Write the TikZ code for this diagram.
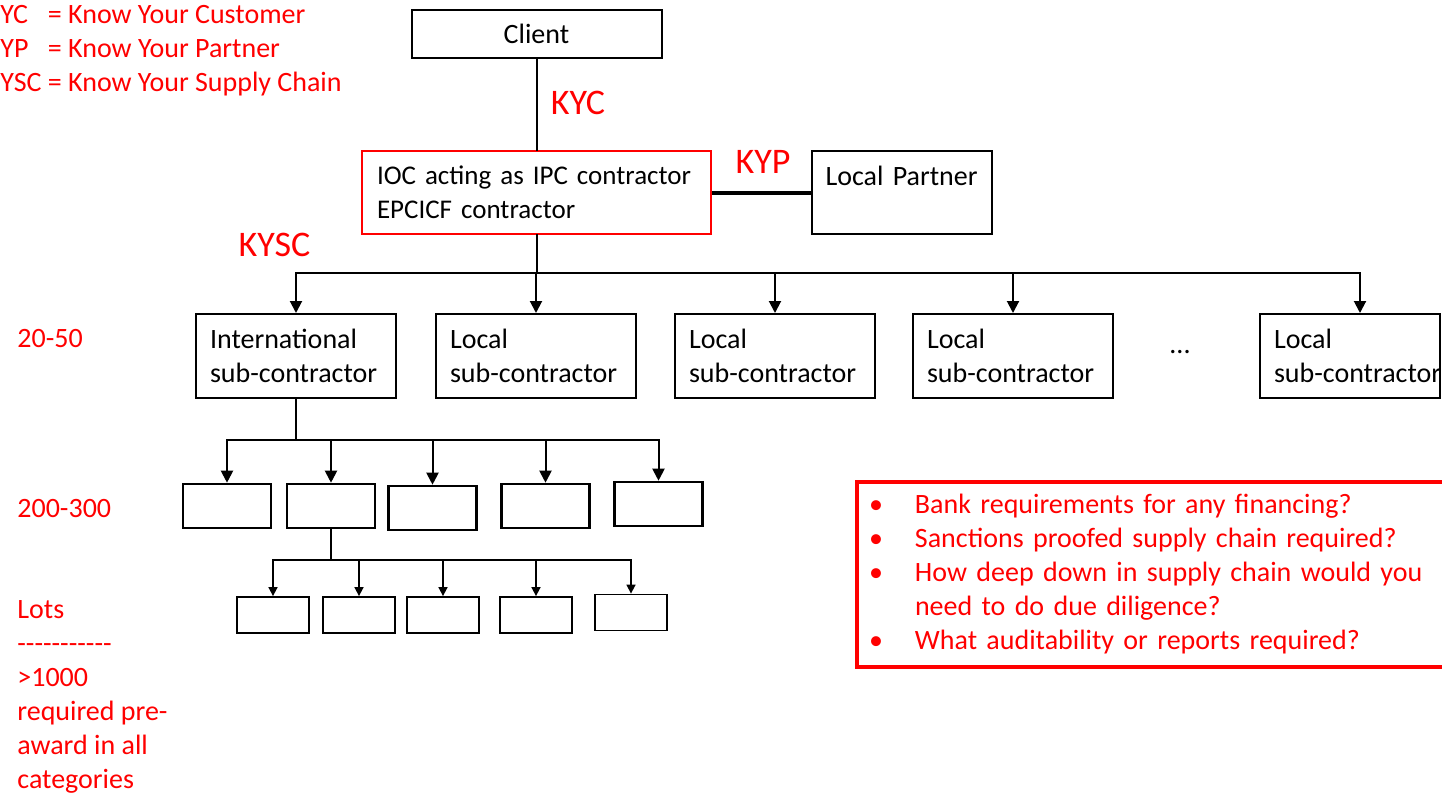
\documentclass[tikz,border=0pt]{standalone}
\usepackage{fontspec}
\setmainfont{Carlito}
\usetikzlibrary{arrows.meta}

\begin{document}
\begin{tikzpicture}[
    x=0.5pt, y=-0.5pt,
    every node/.append style={font=\fontsize{14}{17}\selectfont},
    sub/.style={draw, line width=1pt, text width=86pt, inner xsep=7pt, minimum height=42pt, align=left},
    redbox/.style={draw=red, line width=1.2pt, text width=159.5pt, inner xsep=7.5pt, minimum height=41.5pt, align=left, font=\fontsize{13.5}{17}\selectfont},
    askbox/.style={draw=red, line width=2pt, text=red, text width=290pt, inner xsep=6pt, minimum height=92.5pt, align=left},
    lotbox/.style={draw, line width=1.3pt, minimum width=44pt, minimum height=22pt, inner sep=0pt},
    smallbox/.style={draw, line width=0.9pt, minimum width=36pt, minimum height=18pt, inner sep=0pt},
    line/.style={line width=1pt, line cap=rect},
    arrow/.style={-{Triangle[length=6pt,width=6pt]}, line width=1pt},
    smallarrow/.style={-{Triangle[length=4.5pt,width=4.5pt]}, line width=0.8pt},
    tag/.style={text=red, inner sep=0pt, font=\fontsize{18}{21}\selectfont},
    tier/.style={text=red, inner sep=0pt, anchor=west, align=left}
]
    \useasboundingbox (0,0) rectangle (1442,793);

    % Legend (cut at the left edge)
    \node[anchor=west, inner sep=0pt, text=red] (legend) at (0,51)
        {\begin{tabular}{@{}l@{\ }l@{}}YC & = Know Your Customer\\YP & = Know Your Partner\\YSC & = Know Your Supply Chain\end{tabular}};

    % Client and contractor
    \node[draw, line width=1pt, minimum width=125pt, minimum height=24pt] (client) at (536.5,34) {Client};
    \node[redbox] (ioc) at (536.5,192.5) {\mbox{IOC acting as IPC contractor}\\EPCICF contractor};
    \node[sub, text width=76pt, minimum height=41.5pt] (partner) at (901.5,192.5) {\mbox{Local Partner}\\\mbox{}};

    % Know-your labels
    \node[tag] (kyc) at (578,103) {KYC};
    \node[tag] (kyp) at (763,162) {KYP};
    \node[tag] (kysc) at (274.5,245) {KYSC};

    % Tier labels
    \node[tier] (t1) at (17,339) {20-50};
    \node[tier] (t2) at (17,509) {200-300};
    \node[tier] (t3) at (17,697) {Lots\\-{}-{}-{}-{}-{}-{}-{}-{}-{}-{}-\\>1000\\required pre-\\award in all\\categories};

    % Sub-contractors
    \node[sub] (intl) at (296,356) {International\\sub-contractor};
    \node[sub] (loc1) at (536,356) {Local\\sub-contractor};
    \node[sub] (loc2) at (775,356) {Local\\sub-contractor};
    \node[sub] (loc3) at (1013,356) {Local\\sub-contractor};
    \node (dots) at (1180,352) {...};
    \node[sub, text width=76pt] (loc4) at (1350,356) {Local\\\mbox{sub-contractor}};

    % Lower tiers
    \foreach \i/\x/\y in {1/227/506, 2/331/506, 3/432.5/508, 4/545.5/506, 5/658.5/504}
        \node[lotbox] (b\i) at (\x,\y) {};
    \foreach \i/\x/\y in {1/273/615, 2/359/615, 3/443/615, 4/536/615, 5/631/612.5}
        \node[smallbox] (c\i) at (\x,\y) {};

    % Questions
    \node[askbox, anchor=west] (ask) at (855,574.5)
        {\makebox[23pt][l]{\textbullet}Bank requirements for any financing?\\
         \makebox[23pt][l]{\textbullet}Sanctions proofed supply chain required?\\
         \makebox[23pt][l]{\textbullet}How deep down in supply chain would you\\
         \hspace*{23pt}need to do due diligence?\\
         \makebox[23pt][l]{\textbullet}What auditability or reports required?};

    % Connectors - top
    \draw[line] (client) -- (ioc);
    \draw[line width=2pt] (ioc) -- (partner);

    % Connectors - first tier
    \coordinate (bus1) at (536.5,273);
    \coordinate (tip4) at ([xshift=5pt]loc4.north);
    \draw[line] (ioc) -- (bus1);
    \draw[line] (intl |- bus1) -- (tip4 |- bus1);
    \foreach \n in {intl,loc1,loc2,loc3,tip4}
        \draw[arrow] (\n |- bus1) -- (\n);

    % Connectors - second tier
    \coordinate (bus2) at (296,440);
    \draw[line] (intl) -- (bus2);
    \draw[line] (b1 |- bus2) -- (b5 |- bus2);
    \foreach \i in {1,...,5}
        \draw[arrow] (b\i |- bus2) -- (b\i);

    % Connectors - third tier
    \coordinate (bus3) at (331,560);
    \draw[line] (b2) -- (bus3);
    \draw[line] (c1 |- bus3) -- (c5 |- bus3);
    \foreach \i in {1,...,5}
        \draw[smallarrow] (c\i |- bus3) -- (c\i);

\end{tikzpicture}
\end{document}
